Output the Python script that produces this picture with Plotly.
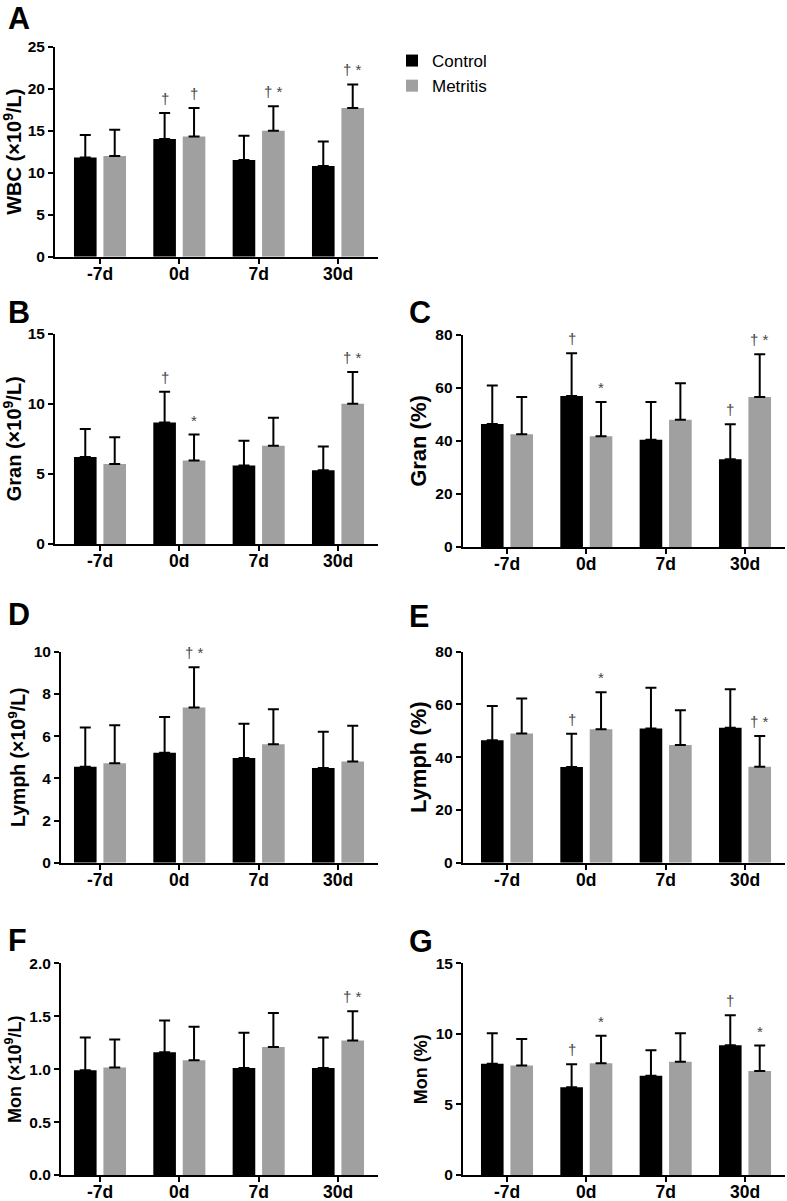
import plotly.graph_objects as go

# ---------------- data ----------------
days = ["-7d", "0d", "7d", "30d"]
groups = ["Control", "Metritis"]

wbc_ctrl = [11.8, 14.0, 11.5, 10.8]
wbc_ctrl_sd = [2.7, 3.1, 2.9, 2.9]
wbc_met = [12.0, 14.3, 15.0, 17.7]
wbc_met_sd = [3.1, 3.4, 2.9, 2.8]
wbc_ctrl_sig = ["", "†", "", ""]
wbc_met_sig = ["", "†", "† *", "† *"]

gran_ctrl = [6.2, 8.65, 5.6, 5.25]
gran_ctrl_sd = [2.0, 2.2, 1.75, 1.7]
gran_met = [5.7, 5.95, 7.0, 10.0]
gran_met_sd = [1.9, 1.85, 2.0, 2.25]
gran_ctrl_sig = ["", "†", "", ""]
gran_met_sig = ["", "*", "", "† *"]

granp_ctrl = [46.4, 57.0, 40.5, 33.1]
granp_ctrl_sd = [14.5, 16.1, 14.2, 13.2]
granp_met = [42.5, 41.8, 48.0, 56.6]
granp_met_sd = [14.1, 12.9, 13.8, 16.1]
granp_ctrl_sig = ["", "†", "", "†"]
granp_met_sig = ["", "*", "", "† *"]

lymph_ctrl = [4.55, 5.21, 4.96, 4.49]
lymph_ctrl_sd = [1.86, 1.69, 1.63, 1.72]
lymph_met = [4.71, 7.36, 5.61, 4.8]
lymph_met_sd = [1.81, 1.9, 1.66, 1.69]
lymph_ctrl_sig = ["", "", "", ""]
lymph_met_sig = ["", "† *", "", ""]

lymphp_ctrl = [46.4, 36.3, 50.9, 51.2]
lymphp_ctrl_sd = [13.0, 12.6, 15.4, 14.6]
lymphp_met = [49.0, 50.6, 44.6, 36.4]
lymphp_met_sd = [13.3, 14.0, 13.2, 11.6]
lymphp_ctrl_sig = ["", "†", "", ""]
lymphp_met_sig = ["", "*", "", "† *"]

mon_ctrl = [0.99, 1.16, 1.01, 1.01]
mon_ctrl_sd = [0.31, 0.30, 0.335, 0.29]
mon_met = [1.015, 1.085, 1.21, 1.27]
mon_met_sd = [0.265, 0.315, 0.32, 0.277]
mon_ctrl_sig = ["", "", "", ""]
mon_met_sig = ["", "", "", "† *"]

monp_ctrl = [7.89, 6.21, 7.04, 9.19]
monp_ctrl_sd = [2.15, 1.63, 1.8, 2.13]
monp_met = [7.75, 7.91, 8.03, 7.37]
monp_met_sd = [1.89, 1.96, 2.01, 1.8]
monp_ctrl_sig = ["", "†", "", "†"]
monp_met_sig = ["", "*", "", "*"]

panel_letters = ["A", "B", "C", "D", "E", "F", "G"]
y_titles = ["WBC (×10<sup>9</sup>/L)", "Gran (×10<sup>9</sup>/L)", "Gran (%)",
            "Lymph (×10<sup>9</sup>/L)", "Lymph (%)", "Mon (×10<sup>9</sup>/L)", "Mon (%)"]
y_max = [25, 15, 80, 10, 80, 2.0, 15]
y_dtick = [5, 5, 20, 2, 20, 0.5, 5]
y_fmt = ["", "", "", "", "", ".1f", ""]

# ---------------- styling / geometry (pixels) ----------------
W, H = 787, 1201
title_sizes = [20, 20, 22, 19.5, 22, 18, 18]
panels = [
    # x0, x1, y0(top), y1(bottom), first tick px, last tick px, letter x, letter y
    (55, 378, 46.7, 256.7, 100, 338, 6, 18.5),
    (55, 378, 333.5, 544, 100, 338, 6, 312),
    (462.7, 785, 335, 547, 507, 745, 407, 312),
    (61, 378, 651.7, 862.7, 100, 338, 6, 614),
    (462.7, 785, 651.7, 862.7, 507, 745, 407, 616),
    (61, 378, 963.3, 1175, 100, 338, 6, 940),
    (463, 785, 963.3, 1175, 507, 745, 407, 941),
]

data = [
    (wbc_ctrl, wbc_ctrl_sd, wbc_met, wbc_met_sd, wbc_ctrl_sig, wbc_met_sig),
    (gran_ctrl, gran_ctrl_sd, gran_met, gran_met_sd, gran_ctrl_sig, gran_met_sig),
    (granp_ctrl, granp_ctrl_sd, granp_met, granp_met_sd, granp_ctrl_sig, granp_met_sig),
    (lymph_ctrl, lymph_ctrl_sd, lymph_met, lymph_met_sd, lymph_ctrl_sig, lymph_met_sig),
    (lymphp_ctrl, lymphp_ctrl_sd, lymphp_met, lymphp_met_sd, lymphp_ctrl_sig, lymphp_met_sig),
    (mon_ctrl, mon_ctrl_sd, mon_met, mon_met_sd, mon_ctrl_sig, mon_met_sig),
    (monp_ctrl, monp_ctrl_sd, monp_met, monp_met_sd, monp_ctrl_sig, monp_met_sig),
]

FONT = "Liberation Sans, Arial, sans-serif"
colors = ["#000000", "#a0a0a0"]
bar_w = 0.285
offsets = [-0.328, 0.043]
xpos = list(range(len(days)))

fig = go.Figure()
annotations = []
layout_axes = {}

for k, (geom, d) in enumerate(zip(panels, data)):
    x0, x1, yt, yb, t0, t1, lx, ly = geom
    sfx = "" if k == 0 else str(k + 1)
    xa, ya = "x" + sfx, "y" + sfx
    means = [d[0], d[2]]
    sds = [d[1], d[3]]
    sigs = [d[4], d[5]]
    for g in range(2):
        fig.add_trace(go.Bar(
            x=xpos, y=means[g], name=groups[g],
            width=bar_w, offset=offsets[g],
            marker=dict(color=colors[g], line=dict(width=0)),
            error_y=dict(type="data", array=sds[g], arrayminus=[0] * len(days),
                         symmetric=False, color="#000000", thickness=2, width=5.5),
            xaxis=xa, yaxis=ya, showlegend=(k == 0),
        ))
        for i in range(len(days)):
            if sigs[g][i]:
                annotations.append(dict(
                    x=xpos[i] + offsets[g] + bar_w / 2, y=means[g][i] + sds[g][i],
                    xref=xa, yref=ya, text=sigs[g][i], showarrow=False,
                    yanchor="bottom", xanchor="center", yshift=4,
                    font=dict(family=FONT, size=15, color="#444444"),
                ))
    s = (t1 - t0) / (len(days) - 1)
    xr = [(x0 - t0) / s, (x1 - t0) / s]
    axis_common = dict(showline=True, linecolor="#000000", linewidth=2,
                       ticks="outside", ticklen=5, tickwidth=2, tickcolor="#000000",
                       showgrid=False, zeroline=False, automargin=False)
    layout_axes["xaxis" + sfx] = dict(
        domain=[x0 / W, x1 / W], range=xr, anchor=ya,
        tickmode="array", tickvals=xpos, ticktext=days, ticklabelstandoff=-5,
        tickfont=dict(family=FONT, size=17.5, color="#000000", weight="bold"),
        **axis_common)
    layout_axes["yaxis" + sfx] = dict(
        domain=[1 - yb / H, 1 - yt / H], range=[0, y_max[k]], anchor=xa,
        tickmode="linear", tick0=0, dtick=y_dtick[k], tickformat=y_fmt[k],
        tickfont=dict(family=FONT, size=15.5, color="#000000", weight="bold"),
        title=dict(text=y_titles[k], standoff=3,
                   font=dict(family=FONT, size=title_sizes[k], color="#000000",
                             weight="bold")),
        **axis_common)
    annotations.append(dict(
        x=lx / W, y=1 - ly / H, xref="paper", yref="paper", text=panel_letters[k],
        showarrow=False, xanchor="left", yanchor="middle",
        font=dict(family=FONT, size=30.5, color="#000000", weight="bold"),
    ))

fig.update_layout(
    width=W, height=H,
    margin=dict(l=0, r=0, t=0, b=0),
    paper_bgcolor="white", plot_bgcolor="white",
    barmode="overlay",
    showlegend=True,
    legend=dict(x=392 / W, xanchor="left", y=1 - 43 / H, yanchor="top",
                tracegroupgap=0,
                font=dict(family=FONT, size=17, color="#000000"),
                bgcolor="rgba(0,0,0,0)", itemclick=False),
    annotations=annotations,
    **layout_axes,
)

fig.write_html("out.html", config={"displayModeBar": False},
               post_script="document.body.style.margin='0';document.body.style.padding='0';")
